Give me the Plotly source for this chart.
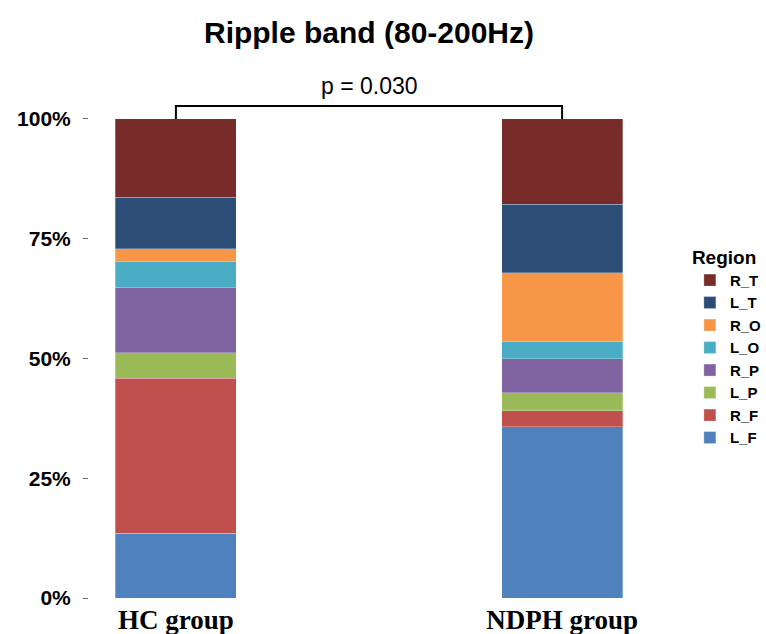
import plotly.graph_objects as go

groups = ["HC group", "NDPH group"]
group_pos = [1, 2]
regions = ["L_F", "R_F", "L_P", "R_P", "L_O", "R_O", "L_T", "R_T"]
hc_values = [13.5, 32.4, 5.3, 13.6, 5.4, 2.7, 10.8, 16.3]
ndph_values = [35.7, 3.4, 3.7, 7.1, 3.6, 14.4, 14.3, 17.8]
colors = ["#4F81BD", "#C0504D", "#9BBB59", "#8064A2", "#4BACC6", "#F79646", "#2C4D75", "#772C2A"]
y_tickvals = [0, 25, 50, 75, 100]
y_ticktext = ["0%", "25%", "50%", "75%", "100%"]
p_text = "p = 0.030"
title_text = "Ripple band (80-200Hz)"

fig = go.Figure()
for i, reg in enumerate(regions):
    fig.add_trace(go.Bar(
        x=group_pos,
        y=[hc_values[i], ndph_values[i]],
        name=reg,
        width=0.3135,
        marker=dict(color=colors[i], line=dict(color="rgba(255,255,255,0.35)", width=0.8)),
    ))

# significance bracket
fig.add_shape(type="path",
              path=f"M {group_pos[0]},100 L {group_pos[0]},102.7 L {group_pos[1]},102.7 L {group_pos[1]},100",
              xref="x", yref="y", line=dict(color="black", width=2))
fig.add_annotation(x=(group_pos[0] + group_pos[1]) / 2, y=106.8, xref="x", yref="y",
                   text=p_text, showarrow=False, yanchor="middle",
                   font=dict(family="Liberation Sans, Arial", size=23, color="black"))

fig.update_layout(
    width=766, height=634,
    barmode="stack", barnorm="percent",
    plot_bgcolor="white", paper_bgcolor="white",
    margin=dict(l=89, r=117, t=71, b=36, autoexpand=False),
    title=dict(text=title_text, x=0.5, xref="paper", y=1 - 32 / 634, yref="container",
               yanchor="middle", xanchor="center",
               font=dict(family="Liberation Sans, Arial", size=30, color="black", weight="bold")),
    xaxis=dict(range=[0.775, 2.225], tickvals=group_pos, ticktext=groups, showgrid=False,
               zeroline=False, showline=False, ticks="", automargin=False, ticklabelstandoff=3,
               tickfont=dict(family="Liberation Serif, Times New Roman", size=27, color="black", weight="bold")),
    yaxis=dict(range=[0, 110], tickvals=y_tickvals, ticktext=y_ticktext, showgrid=False,
               zeroline=False, showline=False, ticks="outside", ticklen=5, tickcolor="#666",
               ticklabelstandoff=8, automargin=False,
               tickfont=dict(family="Liberation Sans, Arial", size=21, color="black", weight="bold")),
    legend=dict(traceorder="reversed", x=1.073, xanchor="left", y=0.681, yanchor="top",
                title=dict(text="Region", font=dict(family="Liberation Sans, Arial", size=19,
                                                    color="black", weight="bold")),
                font=dict(family="Liberation Sans, Arial", size=15, color="black", weight="bold"),
                itemwidth=30),
    showlegend=True,
)

fig.write_html("out.html", config={"displayModeBar": False},
               post_script="document.body.style.margin='0px';")
